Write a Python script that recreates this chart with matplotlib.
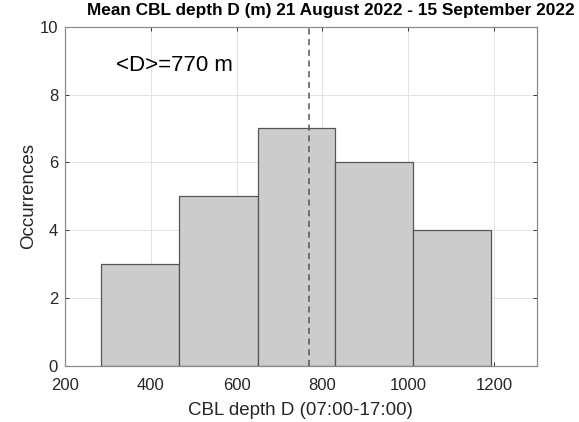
import numpy as np
import matplotlib
matplotlib.use("Agg")
import matplotlib.pyplot as plt

# histogram of daytime CBL depth
bin_edges = [285, 467, 649, 830, 1012, 1193]
counts = [3, 5, 7, 6, 4]
mean_depth = 770

title = "Mean CBL depth D (m) 21 August 2022 - 15 September 2022"
xlabel = "CBL depth D (07:00-17:00)"
ylabel = "Occurrences"
xticks = [200, 400, 600, 800, 1000, 1200]
yticks = [0, 2, 4, 6, 8, 10]

plt.rcParams['font.family'] = ['Liberation Sans', 'DejaVu Sans']

W, H = 579, 422
fig = plt.figure(figsize=(W / 100, H / 100), dpi=100)
ax = fig.add_axes([65 / W, 1 - 366 / H, (536.7 - 65) / W, (366 - 26.7) / H])

edges = np.array(bin_edges)
ax.bar(edges[:-1], counts, width=np.diff(edges), align='edge',
       color='#cccccc', edgecolor='#555555', linewidth=0.9, zorder=2)
ax.axvline(mean_depth, color='#555555', linestyle=(0, (4, 3)), linewidth=1.1, zorder=3)
ax.text(320, 8.87, "<D>=%d m" % mean_depth, fontsize=16, va='center', ha='left',
        color='black', zorder=4)

ax.set_xlim(200, 1300)
ax.set_ylim(0, 10)
ax.set_xticks(xticks)
ax.set_yticks(yticks)
ax.grid(True, color='#e3e3e3', linewidth=0.7, zorder=0)
ax.set_axisbelow(True)
for s in ax.spines.values():
    s.set_color('#8a8a8a')
    s.set_linewidth(0.9)
ax.tick_params(direction='in', length=3, width=0.7, color='#333333',
               top=True, right=True, labelsize=12, labelcolor='#262626')
ax.tick_params(axis='x', pad=9)
ax.tick_params(axis='y', pad=5)
ax.set_xlabel(xlabel, fontsize=13.5, color='#262626', labelpad=6)
ax.set_ylabel(ylabel, fontsize=13.5, color='#262626', labelpad=2)

# title sits a little right of the axes centre
fig.text(331 / W, 1 - 3 / H, title, fontsize=12.4, fontweight='bold',
         ha='center', va='top')

fig.savefig("out.png", dpi=100)
